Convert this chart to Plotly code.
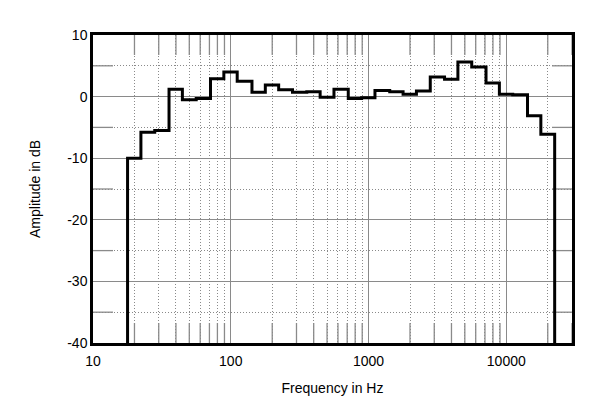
import plotly.graph_objects as go

# 1/3-octave band centre frequencies (Hz) and amplitude (dB)
band_centers = [20, 25, 31.5, 40, 50, 63, 80, 100, 125, 160, 200, 250, 315, 400, 500,
                630, 800, 1000, 1250, 1600, 2000, 2500, 3150, 4000, 5000, 6300, 8000,
                10000, 12500, 16000, 20000]
amplitude_db = [-10.0, -5.8, -5.5, 1.2, -0.5, -0.3, 2.9, 4.0, 2.5, 0.7, 1.9, 1.1, 0.7, 0.8, -0.1,
                1.2, -0.3, -0.2, 1.0, 0.8, 0.4, 0.9, 3.2, 2.8, 5.6, 4.8, 2.2,
                0.4, 0.3, -3.1, -6.1]
floor_db = -40
x_tick_vals = [10, 100, 1000, 10000]
x_tick_text = ["10", "100", "1000", "10000"]
y_tick_vals = [-40, -30, -20, -10, 0, 10]
y_tick_text = ["-40", "-30", "-20", "-10", "0", "10"]
y_minor_vals = [-35, -25, -15, -5, 5]

# band edges from centres (1/3 octave)
lo = [f * 2 ** (-1 / 6) for f in band_centers]
hi = [f * 2 ** (1 / 6) for f in band_centers]
xs = [lo[0]] + lo + [hi[-1], hi[-1]]
ys = [floor_db] + amplitude_db + [amplitude_db[-1], floor_db]

x_minor_vals = [m * d for d in x_tick_vals for m in range(2, 10) if m * d <= 30000]

fig = go.Figure()
fig.add_trace(go.Scatter(x=xs, y=ys, mode="lines", line=dict(color="black", width=3, shape="hv"),
                         hoverinfo="skip", showlegend=False))

grid = "#8a8a8a"
font = "Liberation Sans, Arial, sans-serif"
W, H = 600, 406
M = dict(l=85, r=36, t=27, b=71)
plot_h = H - M["t"] - M["b"]
plot_w = W - M["l"] - M["r"]
tick_frac_y = 20 / plot_h
tick_frac_x = 20 / plot_w

shapes = []
for v in x_minor_vals:
    for (a, b) in [(0, tick_frac_y), (1 - tick_frac_y, 1)]:
        shapes.append(dict(type="line", xref="x", yref="paper", x0=v, x1=v, y0=a, y1=b,
                           line=dict(color=grid, width=1.3), layer="below"))
for v in y_minor_vals:
    for (a, b) in [(0, tick_frac_x), (1 - tick_frac_x, 1)]:
        shapes.append(dict(type="line", xref="paper", yref="y", x0=a, x1=b, y0=v, y1=v,
                           line=dict(color=grid, width=1.3), layer="below"))

fig.update_layout(
    width=W, height=H,
    margin=M,
    paper_bgcolor="white", plot_bgcolor="white",
    font=dict(family=font, size=14, color="black"),
    shapes=shapes,
    xaxis=dict(
        type="log", range=[1, 4.477], automargin=False,
        tickvals=x_tick_vals, ticktext=x_tick_text,
        showgrid=True, gridcolor=grid, gridwidth=1.3,
        ticks="", ticklabelstandoff=3,
        showline=True, linecolor="black", linewidth=2.5, mirror=True,
        minor=dict(tickvals=x_minor_vals, ticks="", showgrid=True, gridcolor=grid,
                   griddash="1px,2px", gridwidth=1),
        title=dict(text="Frequency in Hz", font=dict(size=14), standoff=16),
        zeroline=False,
    ),
    yaxis=dict(
        range=[-40, 10], tickvals=y_tick_vals, ticktext=y_tick_text, automargin=False,
        showgrid=True, gridcolor=grid, gridwidth=1.3,
        ticks="",
        showline=True, linecolor="black", linewidth=2.5, mirror=True,
        minor=dict(tickvals=y_minor_vals, ticks="", showgrid=True, gridcolor=grid,
                   griddash="1px,2px", gridwidth=1),
        title=dict(text="Amplitude in dB", font=dict(size=14), standoff=24),
        zeroline=False,
    ),
)

fig.write_html("out.html")
